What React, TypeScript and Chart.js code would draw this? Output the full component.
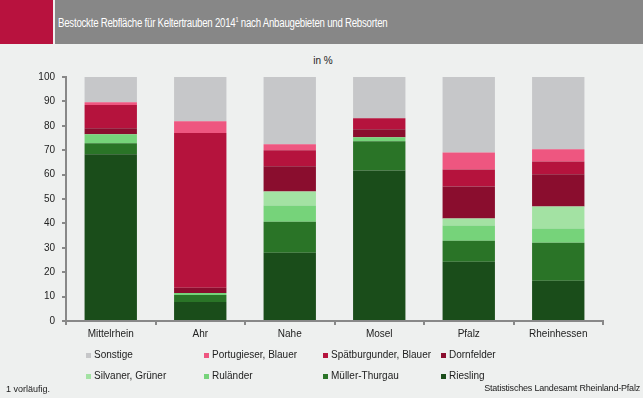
import React, { useEffect, useRef } from "react";
import { Chart, registerables } from "chart.js";

Chart.register(...registerables);

const categories = ["Mittelrhein", "Ahr", "Nahe", "Mosel", "Pfalz", "Rheinhessen"];
const riesling = [68.3, 7.8, 28.0, 61.7, 24.3, 16.5];
const muellerThurgau = [4.5, 2.9, 12.7, 12.0, 8.6, 15.6];
const rulaender = [3.7, 0.8, 6.6, 1.6, 6.2, 5.8];
const silvaner = [0, 0, 5.8, 0, 2.9, 9.0];
const dornfelder = [2.5, 2.1, 10.3, 3.3, 13.1, 13.2];
const spaetburgunder = [9.5, 63.4, 6.6, 4.5, 7.0, 5.3];
const portugieser = [1.2, 4.9, 2.4, 0, 7.0, 5.0];
const sonstige = [10.3, 18.1, 27.6, 16.9, 30.9, 29.6];
const yTicks = [0, 10, 20, 30, 40, 50, 60, 70, 80, 90, 100];

const series = [
  { label: "Riesling", data: riesling, color: "#1a4d1a" },
  { label: "Müller-Thurgau", data: muellerThurgau, color: "#2a7427" },
  { label: "Ruländer", data: rulaender, color: "#76d37a" },
  { label: "Silvaner, Grüner", data: silvaner, color: "#a3e2a3" },
  { label: "Dornfelder", data: dornfelder, color: "#8a0d2e" },
  { label: "Spätburgunder, Blauer", data: spaetburgunder, color: "#b5133d" },
  { label: "Portugieser, Blauer", data: portugieser, color: "#ee5680" },
  { label: "Sonstige", data: sonstige, color: "#c6c7c9" },
];

const legendOrder = [
  "Sonstige",
  "Portugieser, Blauer",
  "Spätburgunder, Blauer",
  "Dornfelder",
  "Silvaner, Grüner",
  "Ruländer",
  "Müller-Thurgau",
  "Riesling",
];

const FONT = "Arial, 'Liberation Sans', sans-serif";

export default function App() {
  const ref = useRef<HTMLCanvasElement | null>(null);

  useEffect(() => {
    document.body.style.margin = "0";
    if (!ref.current) return;
    const chart = new Chart(ref.current, {
      type: "bar",
      data: {
        labels: categories,
        datasets: series.map((s) => ({
          label: s.label,
          data: s.data,
          backgroundColor: s.color,
          borderWidth: 0,
          categoryPercentage: 1,
          barPercentage: 0.585,
        })),
      },
      options: {
        animation: false,
        responsive: false,
        maintainAspectRatio: false,
        layout: { padding: { left: 0, top: 77, right: 40, bottom: 0 } },
        plugins: { legend: { display: false }, tooltip: { enabled: false }, title: { display: false } },
        scales: {
          x: {
            stacked: true,
            afterFit: (s: any) => {
              s.height = 77;
            },
            grid: {
              display: true,
              drawOnChartArea: false,
              drawTicks: true,
              tickLength: 4,
              color: "#888888",
              lineWidth: 2,
              offset: true,
            },
            border: { display: true, color: "#888888", width: 2 },
            ticks: {
              color: "#222222",
              font: { family: FONT, size: 10 },
              padding: 3,
            },
          },
          y: {
            stacked: true,
            min: 0,
            max: 100,
            afterFit: (s: any) => {
              s.width = 66;
            },
            afterBuildTicks: (s: any) => {
              s.ticks = yTicks.map((v) => ({ value: v }));
            },
            grid: {
              display: true,
              drawOnChartArea: false,
              drawTicks: true,
              tickLength: 4,
              color: "#888888",
              lineWidth: 2,
            },
            border: { display: true, color: "#888888", width: 2 },
            ticks: {
              color: "#222222",
              font: { family: FONT, size: 10 },
              padding: 7,
            },
          },
        },
      },
    });
    return () => chart.destroy();
  }, []);

  const colorOf = (l: string) => series.find((s) => s.label === l)!.color;
  const colX = [86, 204, 323, 441];
  const rowY = [355, 376];

  return (
    <div
      style={{
        position: "relative",
        width: 643,
        height: 398,
        background: "#eef0ef",
        overflow: "hidden",
        fontFamily: FONT,
      }}
    >
      <div style={{ position: "absolute", left: 0, top: 0, width: 53, height: 44, background: "#b8123e" }} />
      <div style={{ position: "absolute", left: 55, top: 0, width: 588, height: 44, background: "#878787" }} />
      <div
        style={{
          position: "absolute",
          left: 58,
          top: 15,
          color: "#ffffff",
          fontSize: 12,
          lineHeight: "16px",
          whiteSpace: "nowrap",
          letterSpacing: "-0.3px",
          transform: "scaleX(0.806)",
          transformOrigin: "0 0",
        }}
      >
        Bestockte Rebfläche für Keltertrauben 2014
        <sup style={{ fontSize: 7, verticalAlign: "top", lineHeight: "10px" }}>1</sup> nach Anbaugebieten und Rebsorten
      </div>
      <div
        style={{
          position: "absolute",
          left: 0,
          width: 646,
          top: 55,
          textAlign: "center",
          fontSize: 10,
          color: "#222",
        }}
      >
        in %
      </div>
      <canvas ref={ref} width={643} height={398} style={{ position: "absolute", left: 0, top: 0, width: 643, height: 398 }} />
      {legendOrder.map((l, i) => (
        <div
          key={l}
          style={{
            position: "absolute",
            left: colX[i % 4],
            top: rowY[Math.floor(i / 4)] - 7,
            fontSize: 10,
            lineHeight: "14px",
            color: "#222",
            whiteSpace: "nowrap",
            display: "flex",
            alignItems: "center",
          }}
        >
          <span style={{ display: "inline-block", width: 5, height: 5, background: colorOf(l), marginRight: 3 }} />
          {l}
        </div>
      ))}
      <div style={{ position: "absolute", left: 6, top: 384, fontSize: 9, color: "#222", whiteSpace: "nowrap" }}>
        1 vorläufig.
      </div>
      <div style={{ position: "absolute", right: 3, top: 383, fontSize: 9, color: "#222", whiteSpace: "nowrap", letterSpacing: "-0.2px" }}>
        Statistisches Landesamt Rheinland-Pfalz
      </div>
    </div>
  );
}
